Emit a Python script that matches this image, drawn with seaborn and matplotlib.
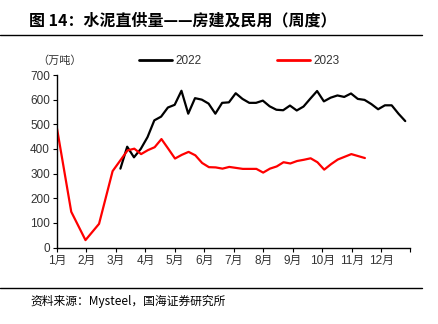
import matplotlib
matplotlib.use("Agg")
import matplotlib.pyplot as plt
import seaborn as sns
import pandas as pd
import numpy as np
from matplotlib.lines import Line2D

# ---- data (week-of-year positions, values in 万吨) ----
weeks_2022 = [9.35 + i for i in range(43)]
values_2022 = [320, 409, 366, 400, 448, 516, 531, 568, 579, 636,
               543, 606, 600, 584, 543, 587, 589, 626, 603, 587,
               587, 596, 573, 559, 557, 576, 556, 572, 604, 635,
               593, 608, 617, 611, 625, 603, 599, 582, 561, 577,
               577, 543, 513]

weeks_2023 = [0, 2.1, 4.2, 6.2, 8.2] + [10.4 + i for i in range(36)]
values_2023 = [483, 145, 30, 96, 310,
               394, 401, 379, 395, 407, 440, 401, 361, 376, 388,
               374, 343, 326, 325, 320, 327, 323, 319, 319, 319,
               304, 320, 329, 346, 341, 351, 356, 362, 346, 316,
               338, 357, 368, 379, 371, 363]

month_labels = ["1月", "2月", "3月", "4月", "5月", "6月",
                "7月", "8月", "9月", "10月", "11月", "12月"]
y_ticks = [0, 100, 200, 300, 400, 500, 600, 700]

series_names = ["2022", "2023"]
series_colors = ["#000000", "#FF0000"]

df = pd.concat([
    pd.DataFrame({"week": weeks_2022, "value": values_2022, "year": "2022"}),
    pd.DataFrame({"week": weeks_2023, "value": values_2023, "year": "2023"}),
])

sns.set_theme(style="ticks")
plt.rcParams["font.family"] = ["Liberation Sans", "Noto Sans CJK SC", "DejaVu Sans"]

W, H = 438, 324
fig = plt.figure(figsize=(W / 100, H / 100), dpi=100)
ax = fig.add_axes([57 / W, 1 - 247.5 / H, (410 - 57) / W, (247.5 - 75) / H])

sns.lineplot(data=df, x="week", y="value", hue="year",
             palette=dict(zip(series_names, series_colors)),
             linewidth=1.6, ax=ax, legend=False, sort=False)

wpm = 52 / 11.97
month_pos = [i * wpm for i in range(12)]
ax.set_xlim(0, 52.05)
ax.set_xticks(month_pos + [52.05])
ax.set_xticklabels(month_labels + [""])
ax.set_ylim(0, 700)
ax.set_yticks(y_ticks)
ax.set_xlabel("")
ax.set_ylabel("")
for s in ["top", "right"]:
    ax.spines[s].set_visible(False)
for s in ["left", "bottom"]:
    ax.spines[s].set_color("black")
    ax.spines[s].set_linewidth(1.0)
ax.tick_params(axis="both", direction="out", length=3, width=0.8,
               color="black", labelsize=8.5, labelcolor="#333333", pad=2)

# legend
handles = [Line2D([0], [0], color=c, lw=2) for c in series_colors]
ax.legend(handles, series_names, ncol=2, loc="center left",
          bbox_to_anchor=((140 - 57) / (410 - 57) - 0.003, 1 + (75 - 61) / (247.5 - 75)),
          frameon=False, fontsize=8.5, handlelength=2.8, handletextpad=0.3,
          columnspacing=6.4, borderpad=0, borderaxespad=0,
          labelcolor="#333333")

fig.text(37 / W, 1 - 61 / H, "（万吨）", fontsize=8, color="#333333",
         va="center", ha="left", family=["Noto Sans CJK SC", "DejaVu Sans"])

# title & source
fig.text(29 / W, 1 - 20 / H, "图 14：水泥直供量——房建及民用（周度）",
         fontsize=11.5, fontweight="bold", color="black", va="center", ha="left",
         family=["Noto Sans CJK SC", "DejaVu Sans"])
fig.add_artist(Line2D([0, 422 / W], [1 - 34.5 / H, 1 - 34.5 / H],
                      color="black", lw=1.0, transform=fig.transFigure))
fig.add_artist(Line2D([0, 422 / W], [1 - 287.5 / H, 1 - 287.5 / H],
                      color="black", lw=1.0, transform=fig.transFigure))
fig.text(30 / W, 1 - 301.5 / H, "资料来源：Mysteel，国海证券研究所",
         fontsize=8.5, color="black", va="center", ha="left",
         family=["Noto Sans CJK SC", "DejaVu Sans"])

fig.savefig("out.png", dpi=100)
